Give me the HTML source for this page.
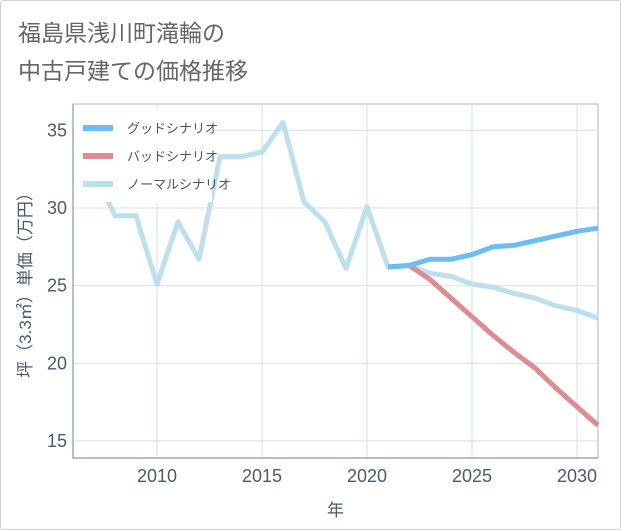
<!DOCTYPE html>
<html><head><meta charset="utf-8"><style>
body{margin:0;background:#fff}
#wrap{position:relative;width:619px;height:528px;border:1px solid #d0d0d0;border-radius:3px;background:#fff;overflow:hidden}
text{font-family:"Liberation Sans","Noto Sans CJK JP",sans-serif}
</style></head><body>
<div id="wrap">
<svg id="chart" width="621" height="530">
<text x="17" y="40" font-size="23" fill="#666">福島県浅川町滝輪の</text>
<text x="17" y="78" font-size="23" fill="#666">中古戸建ての価格推移</text>
</svg>
</div>
<script>
const years=[2007,2008,2009,2010,2011,2012,2013,2014,2015,2016,2017,2018,2019,2020,2021,2022,2023,2024,2025,2026,2027,2028,2029,2030,2031];
const normal=[32.3,29.5,29.5,25.1,29.1,26.7,33.3,33.3,33.6,35.5,30.4,29.1,26.1,30.1,26.2,26.3,25.8,25.6,25.1,24.9,24.5,24.2,23.7,23.4,22.9];
const fYears=[2021,2022,2023,2024,2025,2026,2027,2028,2029,2030,2031];
const good=[26.2,26.3,26.7,26.7,27.0,27.5,27.6,27.9,28.2,28.5,28.7];
const bad=[26.2,26.3,25.4,24.2,23.0,21.8,20.7,19.7,18.4,17.2,16.0];
const xTicks=[2010,2015,2020,2025,2030];
const yTicks=[15,20,25,30,35];
const L=72,R=597,T=103,B=457,X0=2006,X1=2031,Y0=13.9,Y1=36.7;
const sx=v=>L+(v-X0)/(X1-X0)*(R-L);
const sy=v=>B-(v-Y0)/(Y1-Y0)*(B-T);
const NS="http://www.w3.org/2000/svg";
const svg=document.getElementById('chart');
function mk(t,a,p){const e=document.createElementNS(NS,t);for(const k in a)e.setAttribute(k,a[k]);(p||svg).appendChild(e);return e;}
const bg=mk('rect',{x:L,y:T,width:R-L,height:B-T,fill:'#fff',stroke:'#a8b4c0'});


xTicks.forEach(v=>{
 const g=mk('line',{x1:sx(v),x2:sx(v),y1:T,y2:B,stroke:'#d5dfe8'});
 
 
 const t=mk('text',{x:sx(v),y:481,'font-size':18,fill:'#4a5a70','text-anchor':'middle'});t.textContent=v;
 
 
});
yTicks.forEach(v=>{
 const g=mk('line',{x1:L,x2:R,y1:sy(v),y2:sy(v),stroke:'#d5dfe8'});
 
 
 const t=mk('text',{x:L-6,y:sy(v)+6,'font-size':18,fill:'#4a5a70','text-anchor':'end'});t.textContent=v;
 
 
});
const ax=mk('path',{d:`M${L},${T}V${B}H${R}`,fill:'none',stroke:'#8a98a8','stroke-width':1.2});


function line(xs,ys,c,name){
 const p=mk('polyline',{points:xs.map((x,i)=>sx(x)+','+sy(ys[i])).join(' '),fill:'none',stroke:c,'stroke-width':5,'stroke-linejoin':'round'});
 
 
}
line(years,normal,'#bde0ef','normal-scenario-line');
line(fYears,bad,'#e08a92','bad-scenario-line');
line(fYears,good,'#6cbdf4','good-scenario-line');
const lg=mk('rect',{x:L+1,y:T+4,width:138,height:94,fill:'#fff'});


[['グッドシナリオ','#6cbdf4'],['バッドシナリオ','#e08a92'],['ノーマルシナリオ','#bde0ef']].forEach((d,i)=>{
 const y=127+i*28;
 const s=mk('line',{x1:82,x2:112,y1:y,y2:y,stroke:d[1],'stroke-width':6});
 
 
 const t=mk('text',{x:126,y:y+5,'font-size':13,fill:'#555'});t.textContent=d[0];
 
 
});
const xt=mk('text',{x:(L+R)/2,y:515,'font-size':17,fill:'#4a5a70','text-anchor':'middle'});xt.textContent='年';


const yt=mk('text',{x:0,y:0,'font-size':17,fill:'#4a5a70','text-anchor':'middle',transform:`translate(30,${(T+B)/2}) rotate(-90)`});yt.textContent='坪（3.3㎡）単価（万円）';


</script>
</body></html>
